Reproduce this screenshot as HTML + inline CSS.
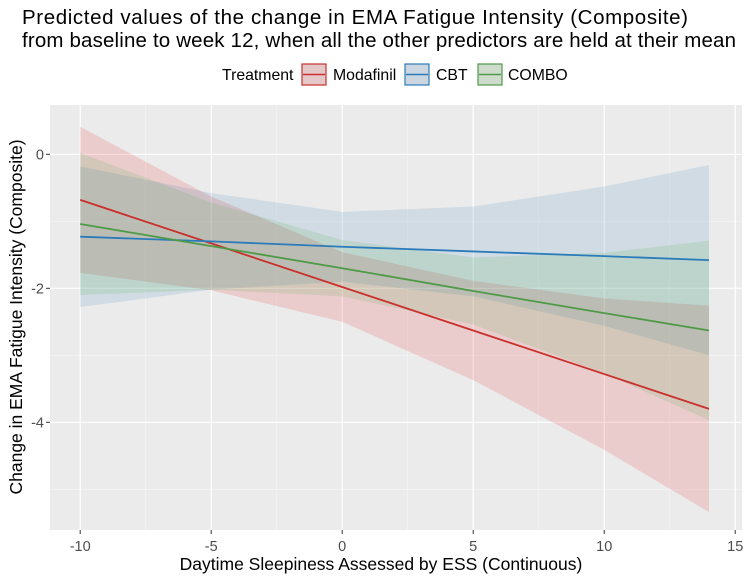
<!DOCTYPE html>
<html><head><meta charset="utf-8"><style>
body{margin:0;background:#fff;font-family:"Liberation Sans",sans-serif;}
svg text{font-family:"Liberation Sans",sans-serif;}
</style></head><body>
<svg id="chart" width="748" height="581" xmlns="http://www.w3.org/2000/svg">
<text x="22" y="24" font-size="20.5" fill="#000" textLength="666">Predicted values of the change in EMA Fatigue Intensity (Composite)</text>
<text x="22" y="47" font-size="20.5" fill="#000" textLength="714">from baseline to week 12, when all the other predictors are held at their mean</text>
<g>
<text x="222" y="80" font-size="15.8">Treatment</text>
<g>
<rect x="302" y="64" width="24" height="21" fill="#e4c8c9" stroke="#c9302c" stroke-width="1.2"/>
<line x1="303" y1="74.5" x2="325" y2="74.5" stroke="#c9302c" stroke-width="1.5"/>
<text x="333" y="80" font-size="15.8">Modafinil</text></g>
<g>
<rect x="405" y="64" width="24" height="21" fill="#ccd6e0" stroke="#2b7bba" stroke-width="1.2"/>
<line x1="406" y1="74.5" x2="428" y2="74.5" stroke="#2b7bba" stroke-width="1.5"/>
<text x="436" y="80" font-size="15.8">CBT</text></g>
<g>
<rect x="478" y="64" width="24" height="21" fill="#cfdccd" stroke="#4e9a47" stroke-width="1.2"/>
<line x1="479" y1="74.5" x2="501" y2="74.5" stroke="#4e9a47" stroke-width="1.5"/>
<text x="508" y="80" font-size="15.8">COMBO</text></g>
</g>
<rect x="50" y="105" width="692" height="425" fill="#ebebeb"/>
<g id="grid"></g><g id="bands"></g><g id="lines"></g><g id="axes"></g>
<text transform="translate(22,317) rotate(-90)" text-anchor="middle" font-size="17.5">Change in EMA Fatigue Intensity (Composite)</text>
<text x="381" y="570" text-anchor="middle" font-size="17.5">Daytime Sleepiness Assessed by ESS (Continuous)</text>
</svg>
<script>
const xs = [-10, -5, 0, 5, 10, 14];
const modafinilFit = [-0.68, -1.33, -1.98, -2.63, -3.28, -3.80];
const modafinilHalf = [1.09, 0.70, 0.52, 0.74, 1.13, 1.54];
const cbtFit = [-1.23, -1.30, -1.38, -1.45, -1.52, -1.58];
const cbtHalf = [1.05, 0.72, 0.52, 0.67, 1.04, 1.42];
const comboFit = [-1.04, -1.37, -1.70, -2.04, -2.37, -2.63];
const comboHalf = [1.06, 0.65, 0.42, 0.50, 0.90, 1.34];
const xTicks = [-10, -5, 0, 5, 10, 15];
const xMinor = [-7.5, -2.5, 2.5, 7.5, 12.5];
const yTicks = [0, -2, -4];
const yMinor = [-1, -3, -5];

const X = v => 342.2 + v * 26.2;
const Y = v => 154.3 - v * 67;
const NS = 'http://www.w3.org/2000/svg';
function mk(tag, attrs, parent){const e=document.createElementNS(NS,tag);for(const k in attrs)e.setAttribute(k,attrs[k]);document.getElementById(parent).appendChild(e);return e;}

xMinor.forEach(v=>{const l=mk('line',{x1:X(v),x2:X(v),y1:105,y2:530,stroke:'#f5f5f5','stroke-width':0.6},'grid');

});
yMinor.forEach(v=>{const l=mk('line',{x1:50,x2:742,y1:Y(v),y2:Y(v),stroke:'#f5f5f5','stroke-width':0.6},'grid');

});
xTicks.forEach(v=>{const l=mk('line',{x1:X(v),x2:X(v),y1:105,y2:530,stroke:'#fff','stroke-width':1.2},'grid');


const t=mk('line',{x1:X(v),x2:X(v),y1:530,y2:534,stroke:'#333','stroke-width':1},'axes');


const tx=mk('text',{x:X(v),y:551,'text-anchor':'middle','font-size':14.5,fill:'#4d4d4d'},'axes');tx.textContent=v;

});
yTicks.forEach(v=>{const l=mk('line',{x1:50,x2:742,y1:Y(v),y2:Y(v),stroke:'#fff','stroke-width':1.2},'grid');


const t=mk('line',{x1:46,x2:50,y1:Y(v),y2:Y(v),stroke:'#333','stroke-width':1},'axes');


const tx=mk('text',{x:44,y:Y(v)+5,'text-anchor':'end','font-size':14.5,fill:'#4d4d4d'},'axes');tx.textContent=v;

});

const series=[['modafinil',modafinilFit,modafinilHalf,'#c9302c','#E41A1C'],['cbt',cbtFit,cbtHalf,'#2b7bba','#377EB8'],['combo',comboFit,comboHalf,'#4e9a47','#4DAF4A']];
series.forEach(([name,fit,half,col,fillc])=>{
  const up=xs.map((x,i)=>X(x)+','+Y(fit[i]+half[i]));
  const lo=xs.map((x,i)=>X(x)+','+Y(fit[i]-half[i])).reverse();
  const p=mk('polygon',{points:up.concat(lo).join(' '),fill:fillc,'fill-opacity':0.15},'bands');
  
  
  const l=mk('polyline',{points:xs.map((x,i)=>X(x)+','+Y(fit[i])).join(' '),fill:'none',stroke:col,'stroke-width':1.8},'lines');
  
  
});
</script>
</body></html>
